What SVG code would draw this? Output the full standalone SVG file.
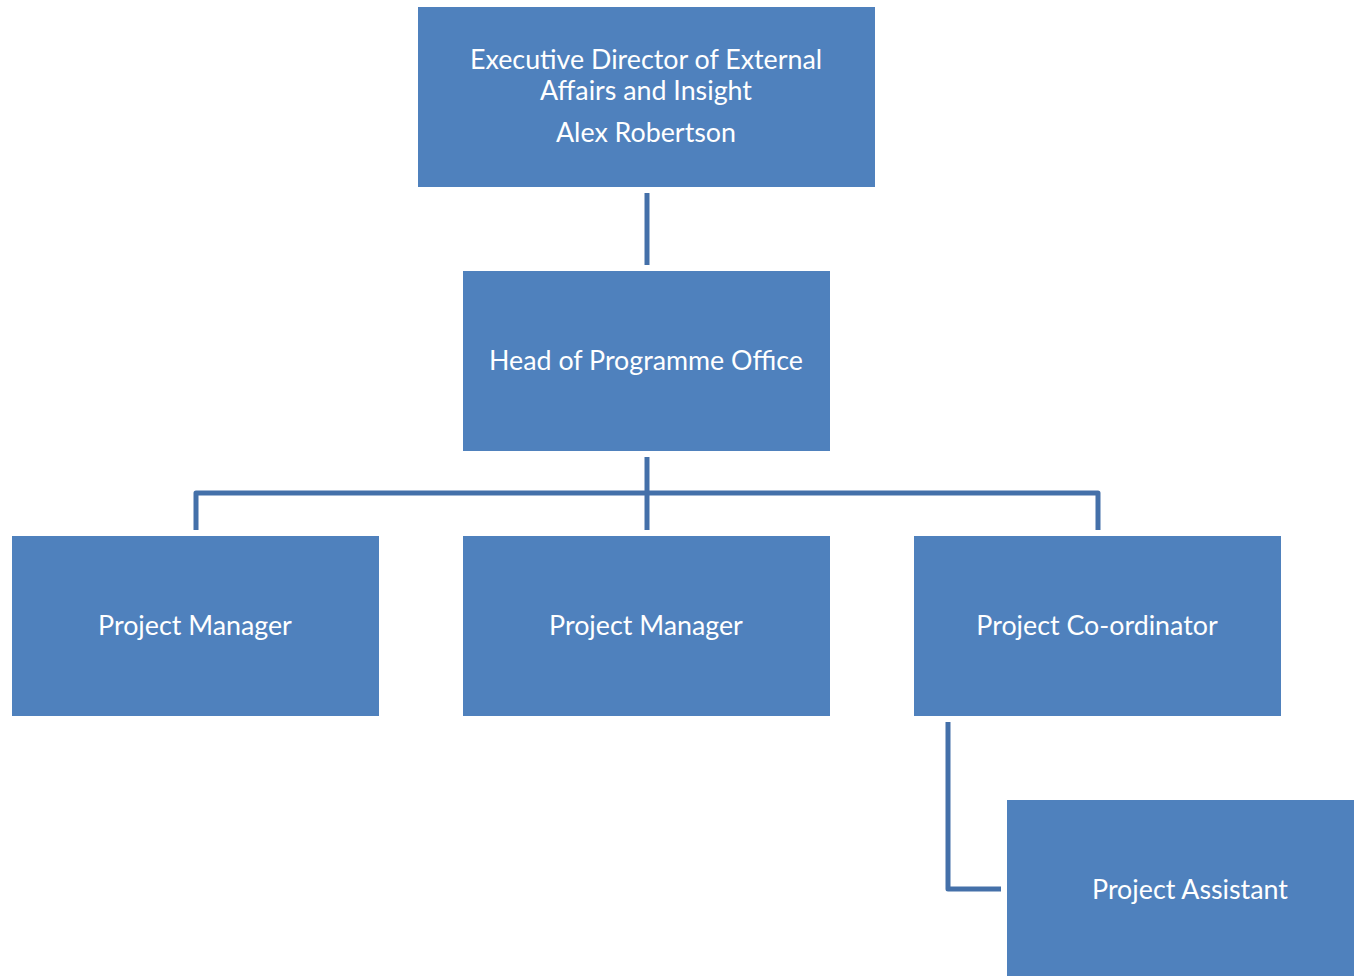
<svg xmlns="http://www.w3.org/2000/svg" width="1354" height="976" viewBox="0 0 1354 976">
<style>
.box{fill:#4F81BD;}
.t{font-family:Lato,"Open Sans","Liberation Sans",sans-serif;font-size:26.8px;fill:#ffffff;text-anchor:middle;}
.c{fill:none;stroke:#4470A9;stroke-width:5;stroke-linejoin:round;}
</style>
<rect width="1354" height="976" fill="#ffffff"/>
<g id="connectors">
<path class="c" d="M647 193V265"/>
<path class="c" d="M647 457V530"/>
<path class="c" d="M196 530V493H1098V530"/>
<path class="c" d="M948 722V889H1001"/>
</g>
<g id="exec">
<rect class="box" x="418" y="7" width="457" height="180"/>
<text class="t" x="646" y="69">Executive Director of External</text>
<text class="t" x="646" y="100">Affairs and Insight</text>
<text class="t" x="646" y="142">Alex Robertson</text>
</g>
<g id="head">
<rect class="box" x="463" y="271" width="367" height="180"/>
<text class="t" x="646" y="370">Head of Programme Office</text>
</g>
<g id="pm1">
<rect class="box" x="12" y="536" width="367" height="180"/>
<text class="t" x="195" y="635">Project Manager</text>
</g>
<g id="pm2">
<rect class="box" x="463" y="536" width="367" height="180"/>
<text class="t" x="646" y="635">Project Manager</text>
</g>
<g id="pc">
<rect class="box" x="914" y="536" width="367" height="180"/>
<text class="t" x="1097" y="635">Project Co-ordinator</text>
</g>
<g id="pa">
<rect class="box" x="1007" y="800" width="347" height="176"/>
<text class="t" x="1190" y="899">Project Assistant</text>
</g>
</svg>
